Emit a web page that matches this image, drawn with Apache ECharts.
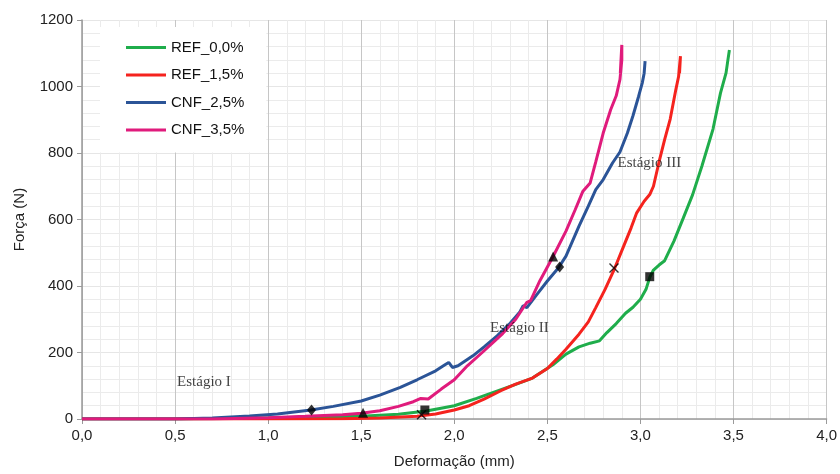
<!DOCTYPE html>
<html>
<head>
<meta charset="utf-8">
<script src="https://cdn.jsdelivr.net/npm/echarts@6/dist/echarts.min.js"></script>
<style>html,body{margin:0;padding:0;background:#fff;}#c{width:840px;height:474px;}</style>
</head>
<body>
<div id="c"></div>
<script>
// ---- data ----
const seriesNames = ['REF_0,0%', 'REF_1,5%', 'CNF_2,5%', 'CNF_3,5%'];
const xTicks = [0, 0.5, 1, 1.5, 2, 2.5, 3, 3.5, 4];
const yTicks = [0, 200, 400, 600, 800, 1000, 1200];

const ref00X = [0, 0.5, 0.9, 1.2, 1.5, 1.7, 1.85, 2.0, 2.12, 2.24, 2.33, 2.42, 2.53, 2.6, 2.67, 2.73, 2.78, 2.82, 2.87, 2.92, 2.96, 3.0, 3.03, 3.05, 3.07, 3.1, 3.13, 3.18, 3.23, 3.28, 3.33, 3.39, 3.43, 3.46, 3.47, 3.478];
const ref00Y = [0, 0, 2, 5, 8, 14, 24, 40, 62, 86, 104, 123, 163, 195, 217, 228, 235, 260, 287, 318, 336, 360, 390, 426, 448, 463, 476, 535, 604, 674, 760, 872, 980, 1041, 1080, 1110];

const ref15X = [0, 1.0, 1.4, 1.6, 1.8, 1.9, 2.0, 2.08, 2.16, 2.25, 2.33, 2.42, 2.5, 2.55, 2.6, 2.67, 2.72, 2.76, 2.81, 2.86, 2.91, 2.95, 2.98, 3.02, 3.05, 3.07, 3.1, 3.13, 3.16, 3.19, 3.205, 3.215, 3.21];
const ref15Y = [0, 0, 1, 3, 8, 15, 27, 40, 60, 85, 105, 123, 152, 180, 210, 255, 292, 335, 390, 451, 520, 575, 620, 655, 675, 700, 773, 840, 902, 990, 1030, 1091, 1040];

const cnf25X = [0, 0.5, 0.7, 0.9, 1.05, 1.23, 1.35, 1.5, 1.6, 1.71, 1.8, 1.9, 1.95, 1.97, 1.99, 2.02, 2.06, 2.1, 2.16, 2.23, 2.3, 2.35, 2.37, 2.39, 2.44, 2.5, 2.56, 2.6, 2.67, 2.72, 2.76, 2.8, 2.85, 2.89, 2.93, 2.96, 2.99, 3.01, 3.02, 3.025];
const cnf25Y = [0, 0, 3, 9, 15, 27, 38, 54, 72, 95, 118, 145, 163, 170, 155, 160, 175, 190, 217, 250, 288, 320, 341, 335, 372, 415, 455, 490, 580, 640, 690, 720, 770, 803, 860, 912, 970, 1011, 1040, 1076];

const cnf35X = [0, 0.7, 1.0, 1.2, 1.4, 1.5, 1.6, 1.7, 1.78, 1.82, 1.86, 1.93, 2.0, 2.07, 2.15, 2.26, 2.33, 2.39, 2.41, 2.46, 2.53, 2.6, 2.65, 2.69, 2.73, 2.76, 2.8, 2.84, 2.87, 2.89, 2.9, 2.9, 2.892];
const cnf35Y = [0, 0, 4, 8, 13, 17, 25, 38, 52, 62, 60, 90, 118, 160, 200, 257, 300, 351, 356, 416, 488, 565, 630, 684, 710, 773, 860, 930, 972, 1021, 1080, 1125, 1040];

const diamondPts = [[1.233, 27], [2.566, 457]];
const trianglePts = [[1.51, 19], [2.531, 489]];
const squarePts = [[1.842, 27], [3.05, 428]];
const crossPts = [[1.824, 13], [2.858, 454]];

const stageLabels = [[0.655, 110, 'Estágio I'], [2.35, 274, 'Estágio II'], [3.048, 771, 'Estágio III']];

const colors = ['#1fad4b', '#f5231e', '#2b5497', '#e01b7c'];

// ---- chart ----
function zip(xs, ys) { return xs.map((x, i) => [x, ys[i]]); }
const lineData = [zip(ref00X, ref00Y), zip(ref15X, ref15Y), zip(cnf25X, cnf25Y), zip(cnf35X, cnf35Y)];

const chart = echarts.init(document.getElementById('c'), null, {renderer: 'canvas'});
const lineSeries = seriesNames.map((n, i) => ({
  name: n, type: 'line', data: lineData[i], symbol: 'none', showSymbol: false,
  lineStyle: {color: colors[i], width: 3}, itemStyle: {color: colors[i]}, z: 3 + (i === 3 ? 1 : 0)
}));
function markerSeries(data, symbol, size, stroke) {
  return {
    type: 'scatter', data: data, symbol: symbol, symbolSize: size, z: 10,
    itemStyle: stroke ? {color: 'rgba(0,0,0,0)', borderColor: '#000', borderWidth: 1.4} : {color: '#000'},
    silent: true
  };
}
chart.setOption({
  animation: false,
  backgroundColor: '#fff',
  grid: {left: 82, right: 13, top: 20, bottom: 51, show: false},
  legend: {
    data: seriesNames, orient: 'vertical', left: 100, top: 27,
    padding: [12, 22, 14, 26], itemGap: 10.5, itemWidth: 40, itemHeight: 3, icon: 'rect',
    backgroundColor: '#fff',
    textStyle: {fontFamily: 'Liberation Sans', fontSize: 15, color: '#111', lineHeight: 17}
  },
  xAxis: {
    type: 'value', min: 0, max: 4, interval: 0.5,
    name: 'Deformação (mm)', nameLocation: 'middle', nameGap: 35,
    nameTextStyle: {fontFamily: 'Liberation Sans', fontSize: 15, color: '#222'},
    axisLine: {show: true, onZero: false, lineStyle: {color: '#9a9a9a', width: 1.5}},
    axisTick: {show: true, length: 5, lineStyle: {color: '#9a9a9a'}},
    axisLabel: {fontFamily: 'Liberation Sans', fontSize: 15, color: '#222', margin: 9,
      formatter: v => xTicks.includes(v) ? v.toFixed(1).replace('.', ',') : ''},
    splitLine: {show: true, lineStyle: {color: '#c6c6c6', width: 1}},
    minorTick: {show: false, splitNumber: 5},
    minorSplitLine: {show: true, lineStyle: {color: '#ebebeb', width: 1}}
  },
  yAxis: {
    type: 'value', min: 0, max: 1200, interval: 200,
    name: 'Força (N)', nameLocation: 'middle', nameGap: 55,
    nameTextStyle: {fontFamily: 'Liberation Sans', fontSize: 15, color: '#222'},
    axisLine: {show: true, lineStyle: {color: '#9a9a9a', width: 1.5}},
    axisTick: {show: true, length: 5, lineStyle: {color: '#9a9a9a'}},
    axisLabel: {fontFamily: 'Liberation Sans', fontSize: 15, color: '#222', margin: 9,
      formatter: v => yTicks.includes(v) ? String(v) : ''},
    splitLine: {show: true, lineStyle: {color: '#e6e6e6', width: 1}},
    minorTick: {show: false, splitNumber: 5},
    minorSplitLine: {show: true, lineStyle: {color: '#ebebeb', width: 1}}
  },
  series: lineSeries.concat([
    markerSeries(diamondPts, 'diamond', [9, 11], false),
    markerSeries(trianglePts, 'triangle', 10, false),
    markerSeries(squarePts, 'rect', 9, false),
    markerSeries(crossPts, 'path://M0,0L10,10M10,0L0,10', 9, true),
    {
      type: 'scatter', data: stageLabels, symbolSize: 0, z: 12, silent: true,
      label: {show: true, position: 'inside', formatter: p => p.data[2],
        fontFamily: 'Liberation Serif', fontSize: 15, color: '#111'}
    }
  ])
});
</script>
</body>
</html>
